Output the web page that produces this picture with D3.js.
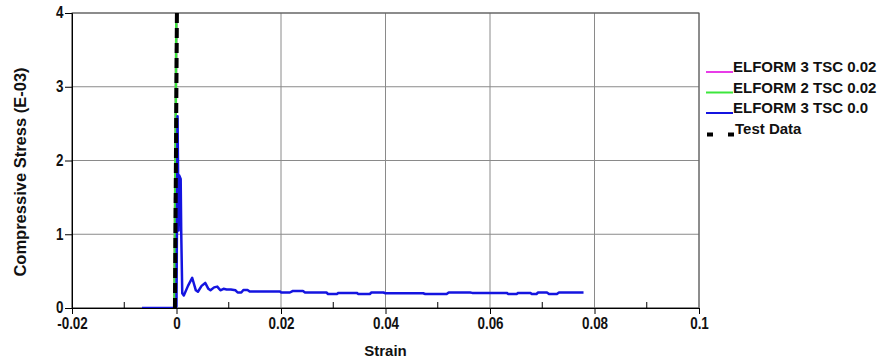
<!DOCTYPE html>
<html>
<head>
<meta charset="utf-8">
<script src="https://cdn.jsdelivr.net/npm/d3@7"></script>
<style>
  body { margin: 0; background: #fff; }
  svg { display: block; }
  text { font-family: "Liberation Sans", Arial, sans-serif; font-weight: bold; fill: #111; }
</style>
</head>
<body>
<div id="chart"></div>
<script>
// ---- data ----
var xTicks = [-0.02, 0, 0.02, 0.04, 0.06, 0.08, 0.1];
var xTickLabels = ['-0.02', '0', '0.02', '0.04', '0.06', '0.08', '0.1'];
var xMinorTicks = [-0.01, 0.01, 0.03, 0.05, 0.07, 0.09];
var yTicks = [0, 1, 2, 3, 4];

var seriesNames = ['ELFORM 3 TSC 0.02', 'ELFORM 2 TSC 0.02', 'ELFORM 3 TSC 0.0', 'Test Data'];

// ELFORM 3 TSC 0.02 (hidden behind the green one)
var magentaStrain = [-0.0004, 0.0000];
var magentaStress = [0, 4.2];

// ELFORM 2 TSC 0.02
var greenStrain = [-0.0004, 0.0000];
var greenStress = [0, 4.2];

// ELFORM 3 TSC 0.0
var blueStrain = [-0.0066, -0.0003, 0.0000, 0.0002, 0.0004, 0.0005, 0.0008, 0.0009, 0.0011, 0.0014,
  0.0022, 0.0030, 0.0037, 0.0041, 0.0048, 0.0055, 0.0061, 0.0065, 0.0072, 0.0078,
  0.0084, 0.0090, 0.0096, 0.0104, 0.0113, 0.0117, 0.0124, 0.0128, 0.0136, 0.0140,
  0.0153, 0.0198, 0.0200, 0.0217, 0.0222, 0.0242, 0.0246, 0.0287, 0.0290, 0.0307,
  0.0310, 0.0345, 0.0348, 0.0370, 0.0373, 0.0396, 0.0400, 0.0472, 0.0476, 0.0517,
  0.0521, 0.0562, 0.0566, 0.0632, 0.0635, 0.0651, 0.0654, 0.0677, 0.0680, 0.0689,
  0.0692, 0.0709, 0.0713, 0.0728, 0.0732, 0.0779];
var blueStress = [0, 0, 0.02, 2.6, 1.05, 1.8, 1.75, 1.05, 0.2, 0.17,
  0.3, 0.41, 0.24, 0.22, 0.3, 0.34, 0.26, 0.24, 0.28, 0.29,
  0.24, 0.26, 0.25, 0.25, 0.24, 0.21, 0.21, 0.245, 0.245, 0.225,
  0.225, 0.225, 0.21, 0.21, 0.23, 0.23, 0.21, 0.21, 0.19, 0.19,
  0.205, 0.205, 0.19, 0.19, 0.21, 0.21, 0.2, 0.2, 0.19, 0.19,
  0.21, 0.21, 0.205, 0.205, 0.19, 0.19, 0.205, 0.205, 0.19, 0.19,
  0.21, 0.21, 0.19, 0.19, 0.21, 0.21];

// Test Data
var testStrain = [-0.0003, 0.0001];
var testStress = [0, 4.2];

// ---- layout ----
var W = 877, H = 360;
var m = { left: 72, right: 178, top: 13, bottom: 52 };
var pw = W - m.left - m.right, ph = H - m.top - m.bottom;

var svg = d3.select('#chart').append('svg')
  .attr('width', W)
  .attr('height', H);

var x = d3.scaleLinear().domain([-0.02, 0.1]).range([0, pw]);
var y = d3.scaleLinear().domain([0, 4]).range([ph, 0]);

var g = svg.append('g').attr('transform', 'translate(' + m.left + ',' + m.top + ')');

// grid
g.append('g').selectAll('line').data(xTicks).enter().append('line')
  .attr('x1', function(d) { return x(d); }).attr('x2', function(d) { return x(d); })
  .attr('y1', 0).attr('y2', ph)
  .attr('stroke', '#8a8a8a').attr('stroke-width', 1);
g.append('g').selectAll('line').data(yTicks).enter().append('line')
  .attr('x1', 0).attr('x2', pw)
  .attr('y1', function(d) { return y(d); }).attr('y2', function(d) { return y(d); })
  .attr('stroke', '#8a8a8a').attr('stroke-width', 1);

// frame
g.append('rect')
  .attr('width', pw).attr('height', ph)
  .attr('fill', 'none').attr('stroke', '#555').attr('stroke-width', 1);

// x axis
var xAxis = d3.axisBottom(x).tickValues(xTicks)
  .tickFormat(function(d, i) { return xTickLabels[i]; })
  .tickSize(6).tickPadding(4);
var gx = g.append('g').attr('transform', 'translate(0,' + ph + ')').call(xAxis);
gx.select('.domain').attr('stroke', '#000');
gx.selectAll('.tick line').attr('stroke', '#000');
gx.selectAll('.tick text').attr('font-size', 16).attr('fill', '#111')
  .attr('font-family', '"Liberation Sans", Arial, sans-serif')
  .attr('transform', 'scale(0.84,1)');

// minor ticks on x axis (inside)
g.append('g').selectAll('line').data(xMinorTicks).enter().append('line')
  .attr('x1', function(d) { return x(d); }).attr('x2', function(d) { return x(d); })
  .attr('y1', ph).attr('y2', ph - 6)
  .attr('stroke', '#000');

// y axis
var yAxis = d3.axisLeft(y).tickValues(yTicks).tickFormat(d3.format('d'))
  .tickSize(7).tickPadding(3);
var gy = g.append('g').call(yAxis);
gy.select('.domain').attr('stroke', '#000');
gy.selectAll('.tick line').attr('stroke', '#000');
gy.selectAll('.tick text').attr('font-size', 16).attr('fill', '#111')
  .attr('font-family', '"Liberation Sans", Arial, sans-serif')
  .attr('dy', '0.3em')
  .attr('transform', 'scale(0.84,1)');

// axis titles
svg.append('text')
  .attr('x', m.left + x(0.04)).attr('y', 356)
  .attr('text-anchor', 'middle').attr('font-size', 15)
  .text('Strain');
svg.append('text')
  .attr('transform', 'translate(26,' + 172 + ') rotate(-90)')
  .attr('text-anchor', 'middle').attr('font-size', 16.5)
  .text('Compressive Stress (E-03)');

// curves
svg.append('clipPath').attr('id', 'plotclip').append('rect')
  .attr('width', pw).attr('height', ph);
var curves = g.append('g').attr('clip-path', 'url(#plotclip)');

function pairs(xs, ys) { return xs.map(function(v, i) { return [v, ys[i]]; }); }
var line = d3.line().x(function(d) { return x(d[0]); }).y(function(d) { return y(d[1]); });

var series = [
  { pts: pairs(magentaStrain, magentaStress), color: '#e83ce8', w: 2.5, dash: null },
  { pts: pairs(greenStrain, greenStress), color: '#3ce63c', w: 2.5, dash: null },
  { pts: pairs(blueStrain, blueStress), color: '#1414e0', w: 2.5, dash: null },
  { pts: pairs(testStrain, testStress), color: '#000', w: 4, dash: '10,5' }
];
series.forEach(function(s) {
  curves.append('path')
    .attr('d', line(s.pts))
    .attr('fill', 'none')
    .attr('stroke', s.color)
    .attr('stroke-width', s.w)
    .attr('stroke-linejoin', 'round')
    .attr('stroke-dasharray', s.dash);
});

// legend
var leg = svg.append('g').attr('transform', 'translate(706,72)');
seriesNames.forEach(function(name, i) {
  var s = series[i];
  var ly = i * 20.5;
  if (s.dash) {
    leg.append('line')
      .attr('x1', 1).attr('x2', 28).attr('y1', ly + 1).attr('y2', ly + 1)
      .attr('stroke', s.color).attr('stroke-width', 4)
      .attr('stroke-dasharray', '6,15');
  } else {
    leg.append('line')
      .attr('x1', 0).attr('x2', 27).attr('y1', ly).attr('y2', ly)
      .attr('stroke', s.color).attr('stroke-width', 2);
  }
  leg.append('text')
    .attr('x', s.dash ? 29 : 27).attr('y', ly)
    .attr('font-size', 15)
    .text(name);
});
</script>
</body>
</html>
